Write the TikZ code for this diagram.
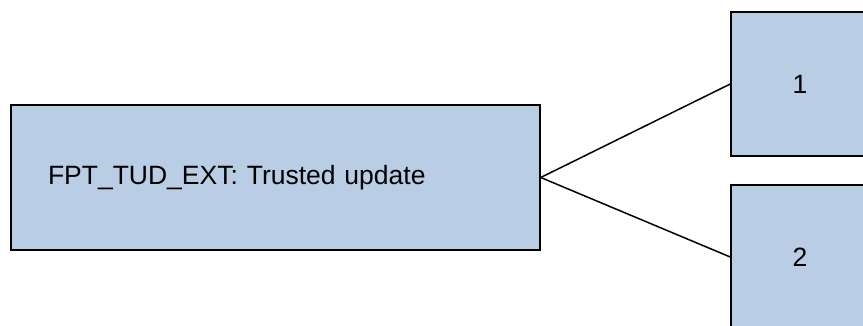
\documentclass[tikz,border=0pt]{standalone}
\usepackage{fontspec}
\setmainfont{Liberation Sans}
\definecolor{boxfill}{HTML}{B9CDE5}
\begin{document}
\begin{tikzpicture}[x=1pt,y=-1pt,
  box/.style={draw=black,fill=boxfill,line width=1.5pt,rectangle,font=\fontsize{26.5}{30}\selectfont},
  link/.style={draw=black,line width=1.5pt}]
\clip (0,0) rectangle (863,326);
\useasboundingbox (0,0) rectangle (863,326);
\node[box,minimum width=529pt,minimum height=145pt,text width=455pt,inner xsep=37pt,align=left] (L) at (275.5,177.5) {FPT\_TUD\_EXT: Trusted update};
\node[box,minimum width=138pt,minimum height=144pt] (A) at (800,84) {1};
\node[box,minimum width=138pt,minimum height=144pt] (B) at (800,257) {2};
\draw[link] (L.east) -- (A.west);
\draw[link] (L.east) -- (B.west);
\end{tikzpicture}
\end{document}
